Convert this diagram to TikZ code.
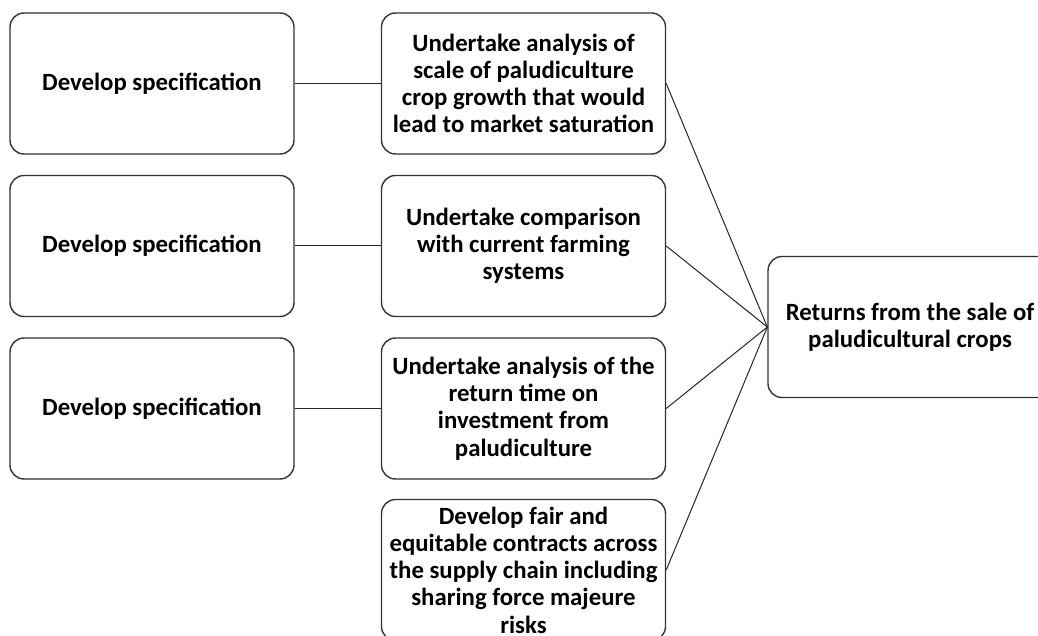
\documentclass[tikz,border=0pt]{standalone}
\usepackage{fontspec}
\setmainfont{Carlito}

\begin{document}
\begin{tikzpicture}[x=0.5pt,y=-0.5pt,
	box/.style={draw=black!80,line width=0.7pt,rounded corners=7pt,
		minimum width=142pt,minimum height=70.5pt,inner xsep=2pt,inner ysep=0pt,align=center,
		font=\bfseries\fontsize{12.4}{13.6}\selectfont},
	link/.style={black!85,line width=0.5pt}]
		\clip (0,0) rectangle (1038,636);
		% specification boxes
		\node[box] (spec1) at (152,83.5) {Develop specification};
		\node[box] (spec2) at (152,246) {Develop specification};
		\node[box] (spec3) at (152,408.5) {Develop specification};
		% tasks
		\node[box] (task1) at (523.5,83.5) {Undertake analysis of\\scale of paludiculture\\crop growth that would\\lead to market saturation};
		\node[box] (task2) at (523.5,246) {Undertake comparison\\with current farming\\systems};
		\node[box] (task3) at (523.5,408.5) {Undertake analysis of the\\return time on\\investment from\\paludiculture};
		\node[box] (task4) at (523.5,570) {Develop fair and\\equitable contracts across\\the supply chain including\\sharing force majeure\\risks};
		% outcome
		\node[box] (returns) at (910,327) {Returns from the sale of\\paludicultural crops};
		\draw[link] (spec1.east) -- (task1.west);
		\draw[link] (spec2.east) -- (task2.west);
		\draw[link] (spec3.east) -- (task3.west);
		\draw[link] (task1.east) -- (returns.west);
		\draw[link] (task2.east) -- (returns.west);
		\draw[link] (task3.east) -- (returns.west);
		\draw[link] (task4.east) -- (returns.west);
\end{tikzpicture}
\end{document}
